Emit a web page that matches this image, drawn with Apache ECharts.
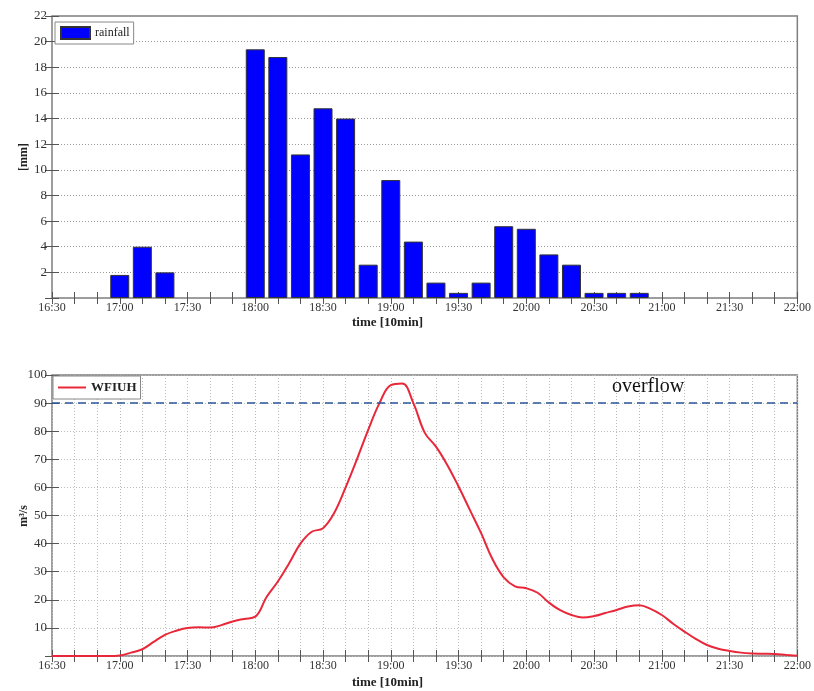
<!DOCTYPE html>
<html>
<head>
<meta charset="utf-8">
<script src="https://cdn.jsdelivr.net/npm/echarts@6/dist/echarts.min.js"></script>
<style>html,body{margin:0;padding:0;background:#fff;overflow:hidden}#c{width:814px;height:691px}</style>
</head>
<body>
<div id="c"></div>
<script>
// ---- data ----
const timeLabels = ['16:30','17:00','17:30','18:00','18:30','19:00','19:30','20:00','20:30','21:00','21:30','22:00'];
const rainTimes = ['17:00','17:10','17:20','17:30','17:40','17:50','18:00','18:10','18:20','18:30','18:40','18:50','19:00','19:10','19:20','19:30','19:40','19:50','20:00','20:10','20:20','20:30','20:40','20:50'];
const rainfall  = [1.8, 4.0, 2.0, 0, 0, 0, 19.4, 18.8, 11.2, 14.8, 14.0, 2.6, 9.2, 4.4, 1.2, 0.4, 1.2, 5.6, 5.4, 3.4, 2.6, 0.4, 0.4, 0.4];
const flowTimes = ['16:30','16:35','16:40','16:45','16:50','16:55','17:00','17:05','17:10','17:15','17:20','17:25','17:30','17:35','17:40','17:45','17:50','17:55','18:00','18:05','18:10','18:15','18:20','18:25','18:30','18:35','18:40','18:45','18:50','18:55','19:00','19:05','19:10','19:15','19:20','19:25','19:30','19:35','19:40','19:45','19:50','19:55','20:00','20:05','20:10','20:15','20:20','20:25','20:30','20:35','20:40','20:45','20:50','20:55','21:00','21:05','21:10','21:15','21:20','21:25','21:30','21:35','21:40','21:45','21:50','21:55','22:00'];
const wfiuh = [0,0,0,0,0,0,0.2,1.2,2.4,5.0,7.5,9.0,10.0,10.2,10.1,11.0,12.3,13.2,14.0,21.0,26.5,33.0,40.0,44.2,45.5,51.0,60.0,70.0,80.5,90.0,96.4,97.0,90.0,79.5,74.5,68.0,60.3,52.0,43.7,34.5,28.0,24.8,24.1,22.5,19.0,16.3,14.6,13.7,14.2,15.3,16.4,17.6,18.1,16.8,14.6,11.5,8.7,6.1,3.9,2.6,1.8,1.2,0.9,0.8,0.7,0.4,0.1];
const overflowLevel = 90;

function toMin(s){ const p = s.split(':'); return (+p[0])*60 + (+p[1]) - (16*60+30); }
const rainData = rainTimes.map((t,i)=>[toMin(t), rainfall[i]]).filter(d=>d[1]>0);
const flowData = flowTimes.map((t,i)=>[toMin(t), wfiuh[i]]);

const FONT = 'Liberation Serif';
const AXC = '#7f7f7f';
function xLabel(v){ return v % 30 === 0 ? timeLabels[v/30] : ''; }

function xBottom(g, grid){
  return {type:'value', gridIndex:g, min:0, max:330, interval:10, position:'bottom',
    axisLine:{show:false},
    axisTick:{inside:true, length:6, lineStyle:{color:'#555'}},
    axisLabel:{formatter:xLabel, fontFamily:FONT, fontSize:12, color:'#333', margin:4, interval:0, showMinLabel:true, showMaxLabel:true},
    splitLine:{show:grid, lineStyle:{type:[1,2], color:'#bbb'}}};
}
function xTop(g){
  return {type:'value', gridIndex:g, min:0, max:330, interval:10, position:'top',
    axisLine:{show:false}, axisTick:{inside:true, length:6, lineStyle:{color:'#555'}},
    axisLabel:{show:false}, splitLine:{show:false}};
}
function yLeft(g, max, iv, dotColor){
  return {type:'value', gridIndex:g, min:0, max:max, interval:iv, position:'left',
    axisLine:{show:false}, axisTick:{inside:true, length:7, lineStyle:{color:'#555'}},
    axisLabel:{formatter:v=>v===0?'':String(v), fontFamily:FONT, fontSize:13, color:'#333', margin:5},
    splitLine:{show:true, lineStyle:{type:[1,2], color:dotColor}}};
}
function yRight(g, max, iv){
  return {type:'value', gridIndex:g, min:0, max:max, interval:iv, position:'right',
    axisLine:{show:false}, axisTick:{inside:true, length:7, lineStyle:{color:'#555'}},
    axisLabel:{show:false}, splitLine:{show:false}};
}

const chart = echarts.init(document.getElementById('c'));
chart.setOption({
  animation:false,
  grid:[
    {left:52, right:12, top:16, height:282, show:true, borderColor:AXC, borderWidth:1.5, backgroundColor:'transparent'},
    {left:52, right:12, top:375, height:281, show:true, borderColor:AXC, borderWidth:1.5, backgroundColor:'transparent'}
  ],
  xAxis:[xBottom(0,false), xTop(0), xBottom(1,true), xTop(1)],
  yAxis:[yLeft(0,22,2,'#999'), yRight(0,22,2), yLeft(1,100,10,'#bbb'), yRight(1,100,10)],
  legend:[
    {data:[{name:'rainfall', icon:'rect'}], left:55, top:22, orient:'vertical', borderColor:'#888', borderWidth:1, padding:[4,4,4,5],
     itemWidth:29, itemHeight:12, textStyle:{fontFamily:FONT, fontSize:12, color:'#222'}, backgroundColor:'#fff'},
    {data:[{name:'WFIUH', icon:'rect'}], left:53, top:376, orient:'vertical', borderColor:'#888', borderWidth:1, padding:[5,4,5,5],
     itemWidth:28, itemHeight:2, textStyle:{fontFamily:FONT, fontSize:13, fontWeight:'bold', color:'#222', lineHeight:13}, backgroundColor:'#fff'}
  ],
  series:[
    {name:'rainfall', type:'bar', xAxisIndex:0, yAxisIndex:0, data:rainData, barWidth:19,
     itemStyle:{color:'#0000ff', borderColor:'#333', borderWidth:1}},
    {name:'WFIUH', type:'line', xAxisIndex:2, yAxisIndex:2, data:flowData, smooth:0.4, showSymbol:false, symbol:'none',
     lineStyle:{color:'#e8283a', width:2}, itemStyle:{color:'#e8283a'},
     markLine:{silent:true, symbol:'none', label:{show:false},
       lineStyle:{color:'#2a5598', type:[8,5], width:1.6},
       data:[{yAxis:overflowLevel}]}}
  ],
  graphic:[
    {type:'text', left:352, top:316, style:{text:'time [10min]', font:'bold 13px "Liberation Serif"', fill:'#222'}},
    {type:'text', left:352, top:676, style:{text:'time [10min]', font:'bold 13px "Liberation Serif"', fill:'#222'}},
    {type:'text', x:24, y:157, rotation:Math.PI/2, style:{text:'[mm]', font:'bold 12px "Liberation Serif"', fill:'#222', align:'center', verticalAlign:'middle'}},
    {type:'text', x:24, y:516, rotation:Math.PI/2, style:{text:'m³/s', font:'bold 12px "Liberation Serif"', fill:'#222', align:'center', verticalAlign:'middle'}},
    {type:'text', left:612, top:377, style:{text:'overflow', font:'20px "Liberation Serif"', fill:'#111'}}
  ]
});
</script>
</body>
</html>
